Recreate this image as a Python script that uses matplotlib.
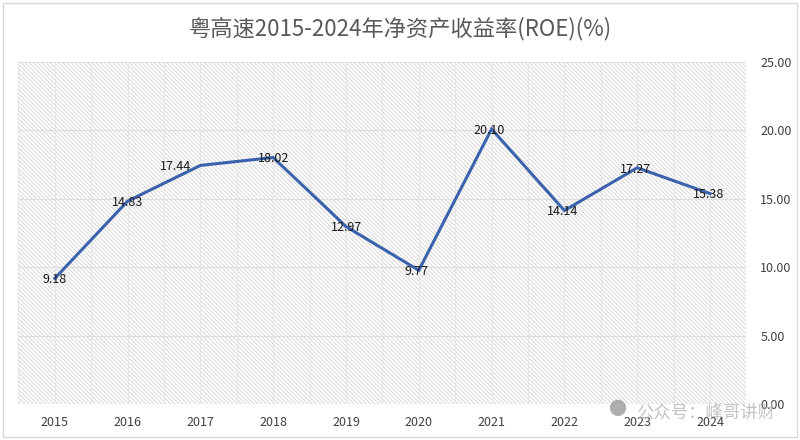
import matplotlib
matplotlib.use("Agg")
import matplotlib.pyplot as plt
from matplotlib.patches import Rectangle
import numpy as np

plt.rcParams['font.family'] = ['Noto Sans CJK SC', 'DejaVu Sans']
plt.rcParams['hatch.linewidth'] = 0.6
plt.rcParams['hatch.color'] = '#d2d2d2'

years = ['2015', '2016', '2017', '2018', '2019', '2020', '2021', '2022', '2023', '2024']
roe = [9.18, 14.83, 17.44, 18.02, 12.97, 9.77, 20.10, 14.14, 17.27, 15.38]
title = '粤高速2015-2024年净资产收益率(ROE)(%)'
yticks = [0, 5, 10, 15, 20, 25]
label_dx = [0, 0, -18, 0, 0, -2, -2, -1, -1, -1]

fig = plt.figure(figsize=(8, 4.4), dpi=100)
ax = fig.add_axes([0.023, 0.082, 0.910, 0.777])
x = np.arange(len(years))

ax.set_xlim(-0.5, len(years) - 0.5)
ax.set_ylim(0, 25)

# hatched plot area
bg = Rectangle((-0.5, 0), len(years), 25, facecolor='white', edgecolor='#d2d2d2',
               hatch='\\' * 8, linewidth=0, zorder=0)
ax.add_patch(bg)

# grid
for yv in yticks:
    ax.axhline(yv, color='#dedede', linewidth=0.8, zorder=1)
for xv in np.arange(-0.5, len(years), 0.5):
    ax.axvline(xv, color='#e6e6e6', linewidth=0.7, zorder=1)

ax.plot(x, roe, color='#3a62ad', linewidth=2.2, zorder=3, solid_joinstyle='miter')

for i, v in enumerate(roe):
    ax.annotate(f'{v:.2f}', (x[i], v), xytext=(label_dx[i], -1), textcoords='offset points',
                ha='center', va='center', fontsize=9, color='#1a1a1a', zorder=4)

for s in ax.spines.values():
    s.set_visible(False)

ax.set_xticks(x)
ax.set_xticklabels(years, fontsize=9, color='#404040')
ax.yaxis.tick_right()
ax.set_yticks(yticks)
ax.set_yticklabels([f'{t:.2f}' for t in yticks], fontsize=9, color='#404040')
ax.tick_params(axis='both', length=0)
ax.tick_params(axis='x', pad=9)
ax.tick_params(axis='y', pad=10)

fig.text(0.5, 0.935, title, ha='center', va='center', fontsize=16, color='#595959')

# figure border
fig.patches.append(Rectangle((0.004, 0.006), 0.992, 0.988, transform=fig.transFigure,
                             fill=False, edgecolor='#d9d9d9', linewidth=1))

# watermark
fig.text(0.772, 0.068, '\u25cf', ha='center', va='center', fontsize=13, color='#9a9a9a', alpha=0.8)
fig.text(0.795, 0.063, '公众号：峰哥讲财', ha='left', va='center', fontsize=12.5,
         color='#b0b0b0', alpha=0.75)

fig.savefig('out.png', dpi=100)
